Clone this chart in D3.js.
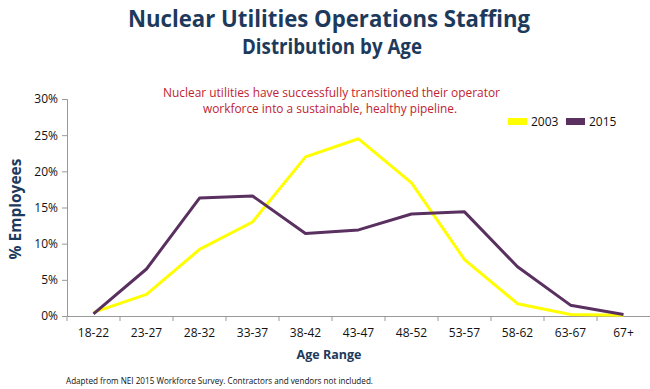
<!DOCTYPE html>
<html>
<head>
<meta charset="utf-8">
<script src="https://cdn.jsdelivr.net/npm/d3@7"></script>
<style>
  body { margin: 0; background: #fff; }
  text { font-family: "Open Sans", sans-serif; }
</style>
</head>
<body>
<div id="chart-area"></div>
<script>
// Data
const ageRanges = ['18-22', '23-27', '28-32', '33-37', '38-42', '43-47', '48-52', '53-57', '58-62', '63-67', '67+']
const pct2003 = [0.5, 3.0, 9.2, 13.0, 22.0, 24.5, 18.4, 7.8, 1.7, 0.2, 0.1]
const pct2015 = [0.3, 6.5, 16.3, 16.6, 11.4, 11.9, 14.1, 14.4, 6.8, 1.5, 0.2]
const yTicks = [0, 5, 10, 15, 20, 25, 30]
const seriesNames = ['2003', '2015']
const seriesColors = ['#ffff00', '#5a3060']

const W = 650, H = 389
const NAVY = '#1d3a5c'

const svg = d3.select('#chart-area').append('svg')
	.attr('width', W)
	.attr('height', H)

// Titles
svg.append('text')
	.attr('x', 128).attr('y', 27)
	.attr('font-family', 'DejaVu Sans Condensed')
	.attr('font-weight', 'bold')
	.attr('font-size', '24px')
	.attr('textLength', 402)
	.attr('lengthAdjust', 'spacingAndGlyphs')
	.attr('fill', NAVY)
	.text('Nuclear Utilities Operations Staffing')

svg.append('text')
	.attr('x', 242).attr('y', 54)
	.attr('font-family', 'DejaVu Sans Condensed')
	.attr('font-weight', 'bold')
	.attr('font-size', '21px')
	.attr('textLength', 180)
	.attr('lengthAdjust', 'spacingAndGlyphs')
	.attr('fill', NAVY)
	.text('Distribution by Age')

// Annotation
const note = svg.append('text')
	.attr('font-size', '12px')
	.attr('fill', '#c0242f')
note.append('tspan').attr('x', 163).attr('y', 97)
	.attr('textLength', 337).attr('lengthAdjust', 'spacingAndGlyphs')
	.text('Nuclear utilities have successfully transitioned their operator')
note.append('tspan').attr('x', 203).attr('y', 113)
	.attr('textLength', 254).attr('lengthAdjust', 'spacingAndGlyphs')
	.text('workforce into a sustainable, healthy pipeline.')

// Scales
const x = d3.scaleBand()
	.domain(ageRanges)
	.range([67, 650])

const y = d3.scaleLinear()
	.domain([0, 30])
	.range([316, 99])

// Axes
const yAxis = svg.append('g')
	.attr('transform', 'translate(67,0)')
	.call(d3.axisLeft(y).tickValues(yTicks).tickFormat(d => d + '%').tickSize(5).tickPadding(4))
yAxis.select('.domain').attr('stroke', '#999')
yAxis.selectAll('.tick line').attr('stroke', '#999')
yAxis.selectAll('.tick text').attr('font-size', '12px').attr('fill', '#111')
	.attr('font-family', 'DejaVu Sans Condensed')

const xAxis = svg.append('g')
	.attr('transform', 'translate(0,316)')
	.call(d3.axisBottom(x).tickSize(0).tickPadding(12))
xAxis.select('.domain').attr('stroke', '#999')
xAxis.selectAll('.tick text').attr('font-size', '12px').attr('fill', '#111')
	.attr('font-family', 'DejaVu Sans Condensed')

// tick marks between categories
xAxis.selectAll('.sep')
	.data(ageRanges)
	.enter().append('line')
	.attr('x1', d => x(d)).attr('x2', d => x(d))
	.attr('y1', 0).attr('y2', 5)
	.attr('stroke', '#999')

// Axis labels
svg.append('text')
	.attr('transform', 'translate(21,209) rotate(-90)')
	.attr('text-anchor', 'middle')
	.attr('font-family', 'DejaVu Sans Condensed')
	.attr('font-weight', 'bold')
	.attr('font-size', '15.5px')
	.attr('fill', NAVY)
	.text('% Employees')

svg.append('text')
	.attr('x', 329).attr('y', 359)
	.attr('text-anchor', 'middle')
	.attr('font-family', 'DejaVu Sans Condensed')
	.attr('font-weight', 'bold')
	.attr('font-size', '12.5px')
	.attr('fill', NAVY)
	.text('Age Range')

// Lines
const line = d3.line()
	.x((d, i) => x(ageRanges[i]) + x.bandwidth() / 2)
	.y(d => y(d))

svg.selectAll('.series')
	.data([pct2003, pct2015])
	.enter().append('path')
	.attr('d', line)
	.attr('fill', 'none')
	.attr('stroke', (d, i) => seriesColors[i])
	.attr('stroke-width', 3)
	.attr('stroke-linejoin', 'round')

// Legend
const legendX = [508, 566]
const legend = svg.selectAll('.legend')
	.data(seriesNames)
	.enter().append('g')
	.attr('transform', (d, i) => `translate(${legendX[i]},118)`)
legend.append('rect')
	.attr('width', 19).attr('height', 7)
	.attr('fill', (d, i) => seriesColors[i])
legend.append('text')
	.attr('x', 23).attr('y', 8)
	.attr('font-size', '12px')
	.attr('fill', '#111')
	.attr('font-family', 'DejaVu Sans Condensed')
	.text(d => d)

// Footnote
svg.append('text')
	.attr('x', 66).attr('y', 384)
	.attr('font-size', '8.8px')
	.attr('fill', '#111')
	.attr('font-family', 'DejaVu Sans Condensed')
	.attr('textLength', 307)
	.attr('lengthAdjust', 'spacingAndGlyphs')
	.text('Adapted from NEI 2015 Workforce Survey. Contractors and vendors not included.')
</script>
</body>
</html>
